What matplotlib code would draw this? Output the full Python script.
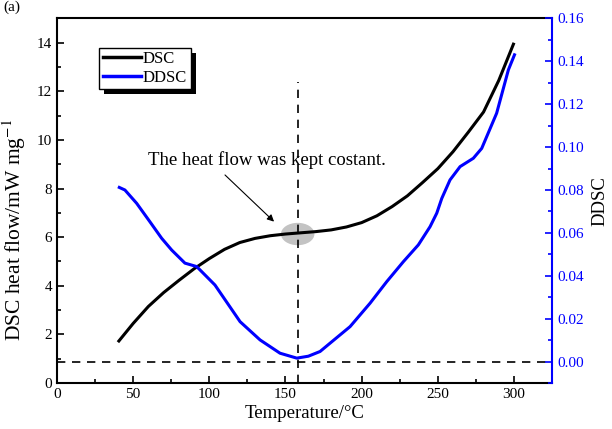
import matplotlib
matplotlib.use("Agg")
import matplotlib.pyplot as plt
from matplotlib.patches import Ellipse, Rectangle
from matplotlib.ticker import MultipleLocator, FormatStrFormatter
from matplotlib.transforms import IdentityTransform
from matplotlib.lines import Line2D

plt.rcParams['font.family'] = ['Liberation Serif', 'DejaVu Serif']
plt.rcParams['mathtext.fontset'] = 'stix'

# DSC heat flow (left axis)
dsc_temp = [40, 50, 60, 70, 80, 90, 100, 110, 120, 130, 140, 150, 160, 170, 180,
            190, 200, 210, 220, 230, 240, 250, 260, 270, 280, 290, 300]
dsc_flow = [1.68, 2.45, 3.15, 3.72, 4.22, 4.7, 5.12, 5.5, 5.78, 5.95, 6.06, 6.13,
            6.18, 6.23, 6.3, 6.42, 6.6, 6.88, 7.26, 7.7, 8.25, 8.82, 9.52, 10.32,
            11.15, 12.45, 14.0]

# DDSC (right axis)
ddsc_temp = [40, 44.6, 52.3, 61, 68.7, 75.3, 84, 91.7, 103.7, 120.2, 133.3, 146.4,
             157.4, 165, 172.7, 179.3, 192.4, 205.5, 216.5, 227.4, 237.2, 244.9,
             249.3, 252.6, 258, 264.6, 273.3, 278.8, 288.6, 296.3, 300.7]
ddsc_val = [0.0815, 0.080, 0.0738, 0.0652, 0.0575, 0.052, 0.0459, 0.0443, 0.0357,
            0.0186, 0.0101, 0.0039, 0.0016, 0.0025, 0.0047, 0.0086, 0.0163, 0.0272,
            0.0373, 0.0466, 0.0544, 0.0629, 0.0692, 0.0761, 0.0847, 0.0909, 0.0948,
            0.0994, 0.1158, 0.136, 0.1437]

x_ticks = [0, 50, 100, 150, 200, 250, 300]
left_ticks = [0, 2, 4, 6, 8, 10, 12, 14]
right_ticks = [0.00, 0.02, 0.04, 0.06, 0.08, 0.10, 0.12, 0.14, 0.16]

marker_temp = 158
vline_top = 12.4
ellipse_center = (158, 6.13)

fig = plt.figure(figsize=(6.12, 4.29), dpi=100)
ax = fig.add_axes([0.0931, 0.1072, 0.809, 0.8498])
ax2 = ax.twinx()

blue = '#0000ff'

ax.plot(dsc_temp, dsc_flow, color='black', lw=2.2, solid_capstyle='butt', zorder=3)
ax2.plot(ddsc_temp, ddsc_val, color=blue, lw=2.2, solid_capstyle='butt', zorder=3)

ax.add_patch(Ellipse(ellipse_center, 22, 0.92, color='#c3c3c3', zorder=2, lw=0))
ax.plot([marker_temp, marker_temp], [0, vline_top], color='black', lw=1.2,
        dashes=(5, 4), zorder=4)
ax2.axhline(0, color='black', lw=1.2, dashes=(5, 4), zorder=1)

ax.set_xlim(0, 325)
ax.set_ylim(0, 15)
ax2.set_ylim(-0.01, 0.16)

ax.set_xticks(x_ticks)
ax.xaxis.set_minor_locator(MultipleLocator(25))
ax.set_yticks(left_ticks)
ax.yaxis.set_minor_locator(MultipleLocator(1))
ax2.set_yticks(right_ticks)
ax2.yaxis.set_minor_locator(MultipleLocator(0.01))
ax2.yaxis.set_major_formatter(FormatStrFormatter('%.2f'))

ax.tick_params(axis='both', which='major', direction='in', length=5, width=1.2,
               labelsize=11, top=False, right=False)
ax.tick_params(axis='both', which='minor', direction='in', length=3, width=1.2,
               top=False, right=False)
ax2.tick_params(axis='y', which='major', direction='in', length=5, width=1.2,
                labelsize=11, colors=blue)
ax2.tick_params(axis='y', which='minor', direction='in', length=3, width=1.2,
                colors=blue)

for s in ['left', 'bottom', 'top']:
    ax.spines[s].set_linewidth(1.5)
ax.spines['right'].set_visible(False)
for s in ['left', 'bottom', 'top']:
    ax2.spines[s].set_visible(False)
ax2.spines['right'].set_color(blue)
ax2.spines['right'].set_linewidth(1.5)

ax.set_xlabel('Temperature/°C', fontsize=13.5, labelpad=3)
ax.set_ylabel('DSC heat flow/mW mg$^{-1}$', fontsize=15.5)
ax.yaxis.set_label_coords(-0.058, 0.42)
ax2.set_ylabel('DDSC', fontsize=13.5, labelpad=6)

ax.text(137.9, 9.18, 'The heat flow was kept costant.', fontsize=13.5,
        ha='center', va='center', zorder=5)
ax.annotate('', xy=(142.5, 6.64), xytext=(110.3, 8.56),
            xycoords='data', textcoords='data',
            arrowprops=dict(arrowstyle='-|>', color='black', lw=0.8,
                            mutation_scale=10, shrinkA=0, shrinkB=0),
            zorder=5)

handles = [Line2D([], [], color='black', lw=2.5), Line2D([], [], color=blue, lw=2.5)]
leg = ax2.legend(handles, ['DSC', 'DDSC'], loc='upper left',
                 bbox_to_anchor=(99 / 612, 1 - 47.5 / 429), bbox_transform=fig.transFigure,
                 fontsize=12, frameon=True, fancybox=False, edgecolor='black',
                 framealpha=1, handlelength=2.3, handletextpad=0.12,
                 borderpad=0.22, labelspacing=0.14, borderaxespad=0)
leg.get_frame().set_linewidth(1.0)

fig.text(0.005, 0.999, '(a)', fontsize=11, va='top', ha='left')

fig.canvas.draw()
bb = leg.get_window_extent()
shadow = Rectangle((bb.x0 + 5, bb.y0 - 5), bb.width, bb.height, transform=IdentityTransform(),
                   facecolor='black', edgecolor='none', zorder=4)
ax2.add_artist(shadow)
leg.set_zorder(6)

fig.savefig('out.png', dpi=100)
